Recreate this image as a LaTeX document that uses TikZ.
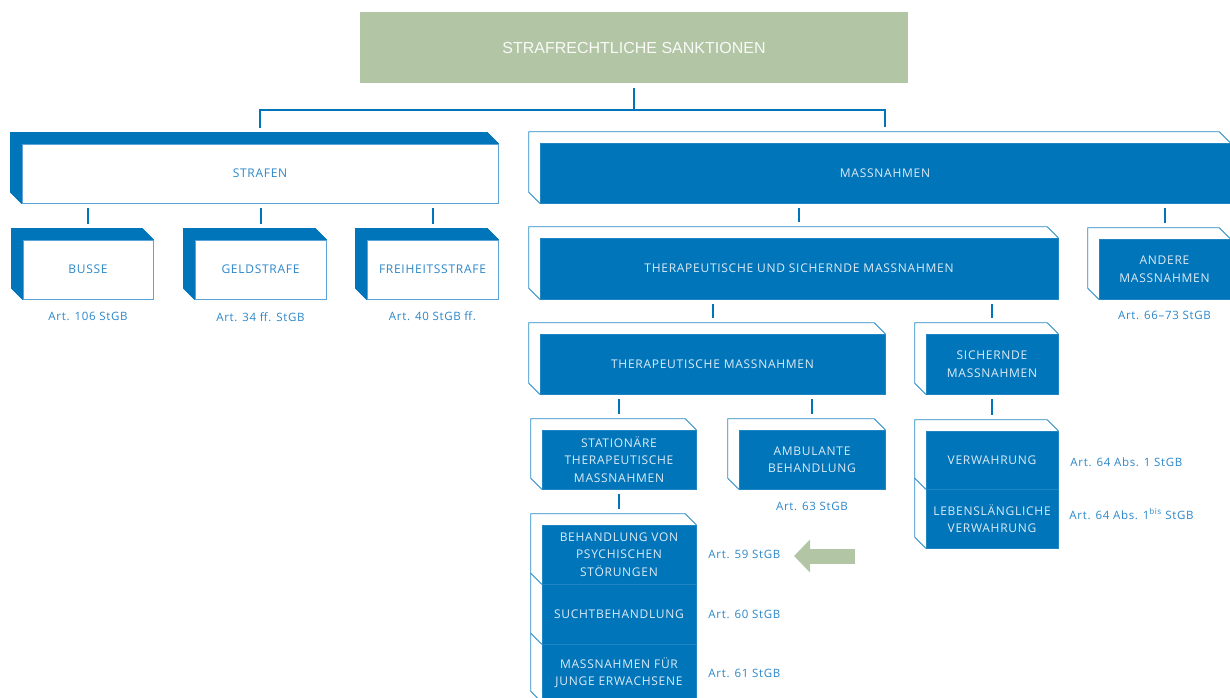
\documentclass[tikz,border=0pt]{standalone}
\usepackage{fontspec}
\setmainfont{Open Sans}[LetterSpace=6]
\newfontfamily\titlefont{Liberation Sans}
\usetikzlibrary{calc,backgrounds,arrows.meta}

\definecolor{sblue}{HTML}{0075BA}
\definecolor{sgreen}{HTML}{B2C6A5}
\definecolor{lblue}{HTML}{DDEBF6}
\definecolor{tblue}{HTML}{2B87C9}
\definecolor{edgeblue}{HTML}{5EA3D8}

\tikzset{
    dims/.style 2 args = {minimum width=#1pt, minimum height=#2pt},
    box/.style         = {rectangle, inner sep=0pt, align=center, font=\fontsize{12}{17.5}\selectfont},
    bluebox/.style     = {box, fill=sblue, draw=sblue!88!white, line width=0.5pt, text=lblue},
    whitebox/.style    = {box, fill=white, draw=edgeblue, line width=0.8pt, text=tblue},
    titlebox/.style    = {rectangle, inner sep=0pt, fill=sgreen, text=white!92!sgreen, font=\titlefont\fontsize{16}{19}\selectfont},
    conn/.style        = {sblue, line width=2pt},
    art/.style         = {inner sep=0pt, text=tblue, font=\fontsize{11.5}{14}\selectfont},
    solidback/.style   = {fill=sblue, draw=sblue, line width=0.8pt},
    openback/.style    = {fill=white, draw=sblue!85!white, line width=0.9pt},
    bigarrow/.style    = {sgreen, line width=15pt, -{Triangle[length=16pt, width=32pt]}},
}

\newcommand{\backdrop}[2]{%
    \path[#2] (#1.south west) -- ++(-11,-11) -- ([shift={(-11pt,11pt)}]#1.north west)
        -- ([shift={(-11pt,11pt)}]#1.north east) -- (#1.north east) -- (#1.south east) -- cycle;}
\newcommand{\sideback}[1]{%
    \draw[sblue!85!white, line width=0.9pt] (#1.south west) -- ++(-11,-11) -- ([shift={(-11pt,11pt)}]#1.north west);}
\newcommand{\joinstub}[2]{%
    \draw[conn] ($(#1.south -| #2.north)+(0,5)$) -- ($(#2.north)+(0,-16)$);}

\begin{document}
\begin{tikzpicture}[x=1pt, y=-1pt]
    \useasboundingbox (0,0) rectangle (1230,697);

    \node[titlebox, dims={548}{71}] (title) at (634,47.5) {STRAFRECHTLICHE SANKTIONEN};

    \node[whitebox, dims={476}{59}] (strafen)    at (260,173.5)   {STRAFEN};
    \node[bluebox,  dims={690}{60}] (massnahmen) at (885,173)     {MASSNAHMEN};

    \node[whitebox, dims={130}{59}] (busse)      at (88,269.5)    {BUSSE};
    \node[whitebox, dims={131}{59}] (geld)       at (260.5,269.5) {GELDSTRAFE};
    \node[whitebox, dims={131}{59}] (freiheit)   at (432.5,269.5) {FREIHEITSSTRAFE};

    \node[bluebox,  dims={518}{61}] (thsich)     at (799,268.5)   {THERAPEUTISCHE UND SICHERNDE MASSNAHMEN};
    \node[bluebox,  dims={131}{60}] (andere)     at (1164.5,269)  {ANDERE\\MASSNAHMEN};

    \node[bluebox,  dims={345}{60}] (therap)     at (712.5,364)   {THERAPEUTISCHE MASSNAHMEN};
    \node[bluebox,  dims={132}{60}] (sichernd)   at (992,364)     {SICHERNDE\\MASSNAHMEN};

    \node[bluebox,  dims={154}{59}] (station)    at (619,459.5)   {STATIONÄRE\\THERAPEUTISCHE\\MASSNAHMEN};
    \node[bluebox,  dims={146}{59}] (ambulant)   at (812,459.5)   {AMBULANTE\\BEHANDLUNG};

    \node[bluebox,  dims={154}{59}] (psych)      at (619,554.5)   {BEHANDLUNG VON\\PSYCHISCHEN\\STÖRUNGEN};
    \node[bluebox,  dims={154}{60}] (sucht)      at (619,614)     {SUCHTBEHANDLUNG};
    \node[bluebox,  dims={154}{58}] (junge)      at (619,673)     {MASSNAHMEN FÜR\\JUNGE ERWACHSENE};

    \node[bluebox,  dims={132}{58}] (verw)       at (992,460)     {VERWAHRUNG};
    \node[bluebox,  dims={132}{59}] (leben)      at (992,518.5)   {LEBENSLÄNGLICHE\\VERWAHRUNG};

    \node[art] (art106)  at ([yshift=-17pt]busse.south)    {Art. 106 StGB};
    \node[art] (art34)   at ([yshift=-18pt]geld.south)     {Art. 34 ff. StGB};
    \node[art] (art40)   at ([yshift=-17pt]freiheit.south) {Art. 40 StGB ff.};
    \node[art] (art66)   at ([yshift=-16pt]andere.south)   {Art. 66–73 StGB};
    \node[art] (art63)   at ([yshift=-17pt]ambulant.south) {Art. 63 StGB};
    \node[art, anchor=west] (art59)  at ([xshift=12pt]psych.east)  {Art. 59 StGB};
    \node[art, anchor=west] (art60)  at ([xshift=12pt]sucht.east)  {Art. 60 StGB};
    \node[art, anchor=west] (art61)  at ([xshift=12pt]junge.east)  {Art. 61 StGB};
    \node[art, anchor=west] (art64)  at ([xshift=12pt,yshift=-2pt]verw.east)  {Art. 64 Abs. 1 StGB};
    \node[art, anchor=west] (art64b) at ([xshift=11pt,yshift=4.5pt]leben.east) {Art. 64 Abs. 1\textsuperscript{bis} StGB};

    \begin{scope}[on background layer]
        \backdrop{strafen}{solidback}
        \backdrop{busse}{solidback}
        \backdrop{geld}{solidback}
        \backdrop{freiheit}{solidback}
        \backdrop{massnahmen}{openback}
        \backdrop{thsich}{openback}
        \backdrop{andere}{openback}
        \backdrop{therap}{openback}
        \backdrop{sichernd}{openback}
        \backdrop{station}{openback}
        \backdrop{ambulant}{openback}
        \backdrop{psych}{openback}
        \sideback{sucht}
        \sideback{junge}
        \backdrop{verw}{openback}
        \sideback{leben}
    \end{scope}

    \draw[conn] ([yshift=-5pt]title.south) -- ([yshift=-27pt]title.south);
    \draw[conn] ([yshift=16pt]strafen.north) |- ([yshift=-27pt]title.south) -| ([yshift=16pt]massnahmen.north);

    \joinstub{strafen}{busse}
    \joinstub{strafen}{geld}
    \joinstub{strafen}{freiheit}
    \joinstub{massnahmen}{thsich}
    \joinstub{massnahmen}{andere}
    \joinstub{thsich}{therap}
    \joinstub{thsich}{sichernd}
    \joinstub{therap}{station}
    \joinstub{therap}{ambulant}
    \joinstub{sichernd}{verw}
    \joinstub{station}{psych}

    \coordinate (tail) at (855,556);
    \coordinate (tip)  at (794,556);
    \draw[bigarrow] (tail) -- (tip);
\end{tikzpicture}
\end{document}
